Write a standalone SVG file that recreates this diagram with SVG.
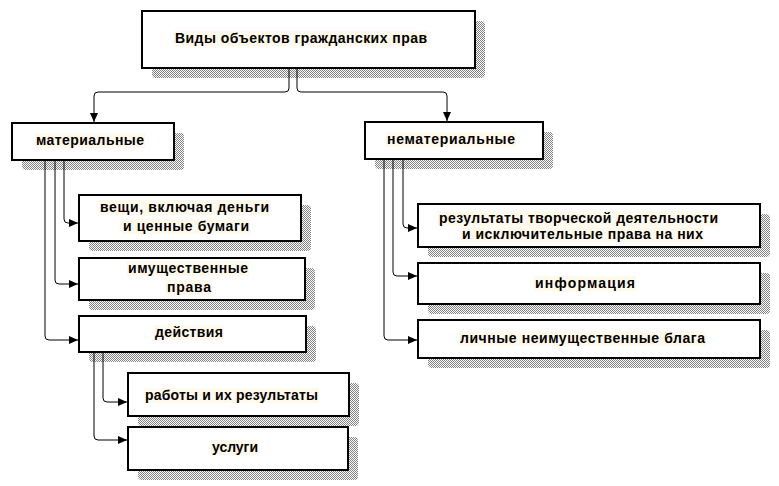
<svg xmlns="http://www.w3.org/2000/svg" width="779" height="486" viewBox="0 0 779 486">
<style>
.box{fill:#fff;stroke:#000;stroke-width:2}
.sh{fill:url(#hatch)}
.hl{fill:#FFF9EC}
.t{font-family:"Liberation Sans",Arial,sans-serif;font-weight:bold;font-size:14px;fill:#000}
.c{fill:none;stroke:#000;stroke-width:1}
</style>
<defs>
<pattern id="hatch" width="2" height="2" patternUnits="userSpaceOnUse">
<rect width="2" height="2" fill="#fff"/>
<rect width="1" height="1" fill="#808080"/>
<rect x="1" y="1" width="1" height="1" fill="#808080"/>
</pattern>
<marker id="arr" markerUnits="userSpaceOnUse" markerWidth="10" markerHeight="10" refX="9" refY="4" orient="auto">
<path d="M0,0 L9,4 L0,8 z" fill="#000"/>
</marker>
</defs>
<rect width="779" height="486" fill="#fff"/>

<g id="n-top">
<rect class="sh" x="152" y="21" width="333" height="57" rx="4"/>
<rect class="box" x="142" y="11" width="333" height="57"/>
<rect class="hl" x="174" y="31" width="254" height="15"/>
<text class="t" x="175" y="43" textLength="252" lengthAdjust="spacing">Виды объектов гражданских прав</text>
</g>

<g id="n-mat">
<rect class="sh" x="22" y="133" width="162" height="37" rx="4"/>
<rect class="box" x="12" y="123" width="162" height="37"/>
<rect class="hl" x="35" y="133" width="110" height="15"/>
<text class="t" x="36" y="145" textLength="108" lengthAdjust="spacing">материальные</text>
</g>

<g id="n-nemat">
<rect class="sh" x="375" y="132" width="178" height="37" rx="4"/>
<rect class="box" x="365" y="122" width="178" height="37"/>
<rect class="hl" x="386" y="132" width="130" height="15"/>
<text class="t" x="387" y="144" textLength="128" lengthAdjust="spacing">нематериальные</text>
</g>

<g id="n-veshchi">
<rect class="sh" x="89" y="205" width="222" height="46" rx="4"/>
<rect class="box" x="79" y="195" width="222" height="46"/>
<rect class="hl" x="99" y="200" width="171" height="15"/>
<rect class="hl" x="122" y="219" width="128" height="15"/>
<text class="t" x="100" y="212" textLength="169" lengthAdjust="spacing">вещи, включая деньги</text>
<text class="t" x="123" y="231" textLength="126" lengthAdjust="spacing">и ценные бумаги</text>
</g>

<g id="n-imush">
<rect class="sh" x="89" y="268" width="226" height="42" rx="4"/>
<rect class="box" x="79" y="258" width="226" height="42"/>
<rect class="hl" x="127" y="261" width="122" height="15"/>
<rect class="hl" x="166" y="280" width="46" height="15"/>
<text class="t" x="128" y="273" textLength="120" lengthAdjust="spacing">имущественные</text>
<text class="t" x="167" y="292" textLength="44" lengthAdjust="spacing">права</text>
</g>

<g id="n-deistv">
<rect class="sh" x="89" y="326" width="227" height="36" rx="4"/>
<rect class="box" x="79" y="316" width="227" height="36"/>
<rect class="hl" x="154" y="325" width="70" height="15"/>
<text class="t" x="155" y="337" textLength="68" lengthAdjust="spacing">действия</text>
</g>

<g id="n-raboty">
<rect class="sh" x="138" y="383" width="221" height="43" rx="4"/>
<rect class="box" x="128" y="373" width="221" height="43"/>
<rect class="hl" x="144" y="388" width="175" height="15"/>
<text class="t" x="145" y="400" textLength="173" lengthAdjust="spacing">работы и их результаты</text>
</g>

<g id="n-uslugi">
<rect class="sh" x="138" y="437" width="220" height="43" rx="4"/>
<rect class="box" x="128" y="427" width="220" height="43"/>
<rect class="hl" x="211" y="440" width="48" height="15"/>
<text class="t" x="212" y="452" textLength="46" lengthAdjust="spacing">услуги</text>
</g>

<g id="n-rezult">
<rect class="sh" x="428" y="214" width="342" height="43" rx="4"/>
<rect class="box" x="418" y="204" width="342" height="43"/>
<rect class="hl" x="438" y="211" width="281" height="15"/>
<rect class="hl" x="461" y="227" width="243" height="15"/>
<text class="t" x="439" y="223" textLength="279" lengthAdjust="spacing">результаты творческой деятельности</text>
<text class="t" x="462" y="239" textLength="241" lengthAdjust="spacing">и исключительные права на них</text>
</g>

<g id="n-inform">
<rect class="sh" x="428" y="273" width="342" height="41" rx="4"/>
<rect class="box" x="418" y="263" width="342" height="41"/>
<rect class="hl" x="534" y="276" width="102" height="15"/>
<text class="t" x="535" y="288" textLength="100" lengthAdjust="spacing">информация</text>
</g>

<g id="n-lichn">
<rect class="sh" x="428" y="330" width="342" height="38" rx="4"/>
<rect class="box" x="418" y="320" width="342" height="38"/>
<rect class="hl" x="459" y="331" width="247" height="15"/>
<text class="t" x="460" y="343" textLength="245" lengthAdjust="spacing">личные неимущественные блага</text>
</g>

<g id="connectors">
<path class="c" marker-end="url(#arr)" d="M289,69 V88 Q289,92 285,92 H98 Q94,92 94,96 V122"/>
<path class="c" marker-end="url(#arr)" d="M297,69 V88 Q297,92 301,92 H443 Q447,92 447,96 V121"/>
<path class="c" marker-end="url(#arr)" d="M64,161 V219 Q64,223 68,223 H78"/>
<path class="c" marker-end="url(#arr)" d="M55,161 V280 Q55,284 59,284 H78"/>
<path class="c" marker-end="url(#arr)" d="M45,161 V336 Q45,340 49,340 H78"/>
<path class="c" marker-end="url(#arr)" d="M103,353 V398 Q103,402 107,402 H127"/>
<path class="c" marker-end="url(#arr)" d="M94,353 V436 Q94,440 98,440 H127"/>
<path class="c" marker-end="url(#arr)" d="M403,160 V224 Q403,228 407,228 H417"/>
<path class="c" marker-end="url(#arr)" d="M393,160 V272 Q393,276 397,276 H417"/>
<path class="c" marker-end="url(#arr)" d="M384,160 V336 Q384,340 388,340 H417"/>
</g>
</svg>
